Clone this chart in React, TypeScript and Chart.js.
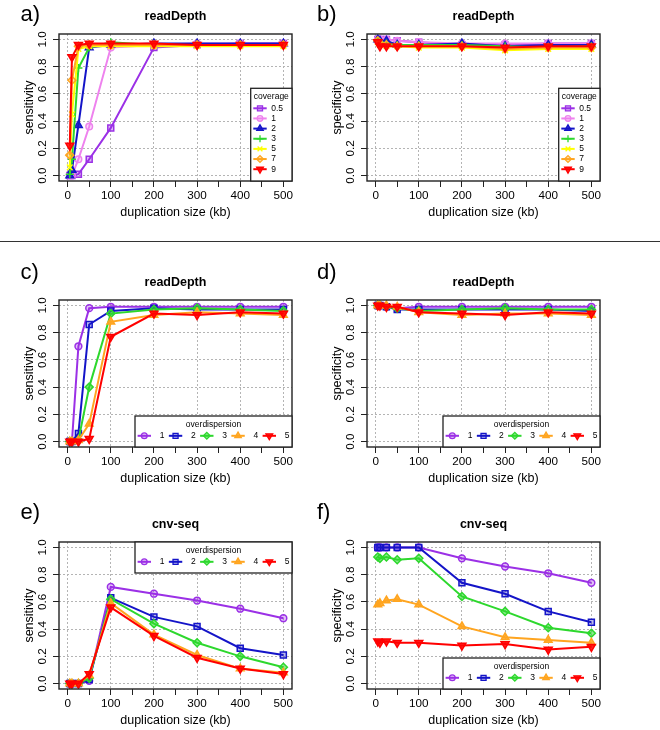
import React, { useEffect, useRef } from 'react';
import { Chart, registerables } from 'chart.js';

Chart.register(...registerables);

const FONT = "'Liberation Sans', Arial, Helvetica, sans-serif";
const GRID = '#B4B4B4';

// ---------- data ----------
const sizesKb = [5, 10, 25, 50, 100, 200, 300, 400, 500];
const xTickValues = [0, 50, 100, 150, 200, 250, 300, 350, 400, 450, 500];
const yTickValues = [0, 0.2, 0.4, 0.6, 0.8, 1.0];

const coverageLevels = ['0.5', '1', '2', '3', '5', '7', '9'];
const overdispersionLevels = ['1', '2', '3', '4', '5'];

// a) readDepth sensitivity, by coverage
const aCov05 = [0, 0, 0.01, 0.12, 0.35, 0.94, 0.96, 0.97, 0.97];
const aCov1 = [0, 0, 0.12, 0.36, 0.94, 0.96, 0.97, 0.97, 0.97];
const aCov2 = [0, 0.04, 0.37, 0.94, 0.96, 0.97, 0.97, 0.97, 0.97];
const aCov3 = [0.01, 0.12, 0.79, 0.94, 0.98, 0.96, 0.96, 0.96, 0.96];
const aCov5 = [0.06, 0.45, 0.93, 0.95, 0.95, 0.95, 0.95, 0.95, 0.95];
const aCov7 = [0.15, 0.7, 0.95, 0.96, 0.96, 0.96, 0.96, 0.96, 0.96];
const aCov9 = [0.22, 0.87, 0.96, 0.97, 0.97, 0.97, 0.96, 0.96, 0.96];

// b) readDepth specificity, by coverage
const bCov05 = [1.0, 1.0, 1.0, 0.99, 0.98, 0.96, 0.96, 0.97, 0.97];
const bCov1 = [1.0, 1.0, 1.0, 0.99, 0.98, 0.97, 0.97, 0.97, 0.97];
const bCov2 = [1.0, 0.99, 0.99, 0.96, 0.96, 0.97, 0.95, 0.96, 0.96];
const bCov3 = [0.99, 0.98, 0.97, 0.96, 0.96, 0.96, 0.95, 0.94, 0.95];
const bCov5 = [0.98, 0.96, 0.95, 0.95, 0.94, 0.94, 0.92, 0.93, 0.93];
const bCov7 = [0.99, 0.97, 0.96, 0.95, 0.95, 0.95, 0.93, 0.94, 0.94];
const bCov9 = [0.98, 0.95, 0.95, 0.95, 0.95, 0.95, 0.94, 0.95, 0.95];

// c) readDepth sensitivity, by overdispersion
const cOd1 = [0, 0, 0.7, 0.98, 0.99, 0.99, 0.99, 0.99, 0.99];
const cOd2 = [0, 0, 0.06, 0.86, 0.96, 0.98, 0.97, 0.97, 0.97];
const cOd3 = [0, 0, 0.01, 0.4, 0.94, 0.97, 0.98, 0.97, 0.96];
const cOd4 = [0, 0, 0.01, 0.13, 0.88, 0.93, 0.95, 0.94, 0.93];
const cOd5 = [0, 0, 0, 0.02, 0.77, 0.94, 0.93, 0.95, 0.94];

// d) readDepth specificity, by overdispersion
const dOd1 = [1.0, 1.0, 0.99, 0.98, 0.99, 0.99, 0.99, 0.99, 0.99];
const dOd2 = [1.0, 1.0, 0.99, 0.97, 0.97, 0.97, 0.97, 0.97, 0.96];
const dOd3 = [1.0, 1.0, 0.99, 0.98, 0.96, 0.97, 0.98, 0.97, 0.97];
const dOd4 = [1.0, 1.0, 1.0, 0.99, 0.95, 0.93, 0.94, 0.94, 0.93];
const dOd5 = [1.0, 1.0, 0.99, 0.99, 0.95, 0.94, 0.93, 0.95, 0.94];

// e) cnv-seq sensitivity, by overdispersion
const eOd1 = [0, 0, 0, 0.02, 0.71, 0.66, 0.61, 0.55, 0.48];
const eOd2 = [0, 0, 0, 0.03, 0.63, 0.49, 0.42, 0.26, 0.21];
const eOd3 = [0, 0, 0, 0.04, 0.62, 0.44, 0.3, 0.2, 0.12];
const eOd4 = [0, 0, 0, 0.06, 0.59, 0.36, 0.21, 0.11, 0.08];
const eOd5 = [0, 0, 0, 0.07, 0.56, 0.35, 0.19, 0.11, 0.07];

// f) cnv-seq specificity, by overdispersion
const fOd1 = [1.0, 1.0, 1.0, 1.0, 1.0, 0.92, 0.86, 0.81, 0.74];
const fOd2 = [1.0, 1.0, 1.0, 1.0, 1.0, 0.74, 0.66, 0.53, 0.45];
const fOd3 = [0.93, 0.92, 0.93, 0.91, 0.92, 0.64, 0.53, 0.41, 0.37];
const fOd4 = [0.58, 0.59, 0.61, 0.62, 0.58, 0.42, 0.34, 0.32, 0.3];
const fOd5 = [0.31, 0.3, 0.31, 0.3, 0.3, 0.28, 0.29, 0.25, 0.27];

// ---------- styles ----------
type MarkStyle = { color: string; fill: string; point: string; rot: number; r: number };

const coverageStyles: MarkStyle[] = [
  { color: '#9B30E6', fill: 'rgba(155,48,230,0.35)', point: 'rect', rot: 0, r: 4.2 },
  { color: '#EE82EE', fill: 'rgba(238,130,238,0.3)', point: 'circle', rot: 0, r: 3.3 },
  { color: '#1414C8', fill: 'rgba(20,20,200,0.85)', point: 'triangle', rot: 0, r: 4.4 },
  { color: '#2DD82D', fill: 'rgba(45,216,45,0)', point: 'cross', rot: 0, r: 4 },
  { color: '#FFFF00', fill: 'rgba(255,255,0,0)', point: 'crossRot', rot: 0, r: 4 },
  { color: '#FFA520', fill: 'rgba(255,165,32,0.35)', point: 'rectRot', rot: 0, r: 4 },
  { color: '#FF0000', fill: 'rgba(255,0,0,0.85)', point: 'triangle', rot: 180, r: 4.6 },
];

const overdispersionStyles: MarkStyle[] = [
  { color: '#9B30E6', fill: 'rgba(155,48,230,0.3)', point: 'circle', rot: 0, r: 3.4 },
  { color: '#1414C8', fill: 'rgba(20,20,200,0.3)', point: 'rect', rot: 0, r: 4.2 },
  { color: '#2DD82D', fill: 'rgba(45,216,45,0.55)', point: 'rectRot', rot: 0, r: 4 },
  { color: '#FFA520', fill: 'rgba(255,165,32,0.85)', point: 'triangle', rot: 0, r: 4.4 },
  { color: '#FF0000', fill: 'rgba(255,0,0,0.85)', point: 'triangle', rot: 180, r: 4.6 },
];

// ---------- layout ----------
const Y_AXIS_W = 59;
const X_AXIS_H = 52;
const PAD_TOP = 45;
const PAD_RIGHT = 12;
const BOX_W = 233;
const BOX_H = 147;
const CANVAS_W = Y_AXIS_W + BOX_W + PAD_RIGHT;
const CANVAS_H = PAD_TOP + BOX_H + X_AXIS_H;

type LegendCfg = { kind: 'v' | 'h'; anchor: 'br' | 'tr'; title: string };

type PanelCfg = {
  boxLeft: number;
  boxTop: number;
  label: string;
  labelX: number;
  labelBaseline: number;
  title: string;
  yTitle: string;
  levels: string[];
  values: number[][];
  styles: MarkStyle[];
  legend: LegendCfg;
};

const panels: PanelCfg[] = [
  {
    boxLeft: 59, boxTop: 34, label: 'a)', labelX: 20.5, labelBaseline: 21, title: 'readDepth', yTitle: 'sensitivity',
    levels: coverageLevels, values: [aCov05, aCov1, aCov2, aCov3, aCov5, aCov7, aCov9], styles: coverageStyles,
    legend: { kind: 'v', anchor: 'br', title: 'coverage' },
  },
  {
    boxLeft: 367, boxTop: 34, label: 'b)', labelX: 317, labelBaseline: 21, title: 'readDepth', yTitle: 'specificity',
    levels: coverageLevels, values: [bCov05, bCov1, bCov2, bCov3, bCov5, bCov7, bCov9], styles: coverageStyles,
    legend: { kind: 'v', anchor: 'br', title: 'coverage' },
  },
  {
    boxLeft: 59, boxTop: 300, label: 'c)', labelX: 20.5, labelBaseline: 279, title: 'readDepth', yTitle: 'sensitivity',
    levels: overdispersionLevels, values: [cOd1, cOd2, cOd3, cOd4, cOd5], styles: overdispersionStyles,
    legend: { kind: 'h', anchor: 'br', title: 'overdispersion' },
  },
  {
    boxLeft: 367, boxTop: 300, label: 'd)', labelX: 317, labelBaseline: 279, title: 'readDepth', yTitle: 'specificity',
    levels: overdispersionLevels, values: [dOd1, dOd2, dOd3, dOd4, dOd5], styles: overdispersionStyles,
    legend: { kind: 'h', anchor: 'br', title: 'overdispersion' },
  },
  {
    boxLeft: 59, boxTop: 542, label: 'e)', labelX: 20.5, labelBaseline: 519, title: 'cnv-seq', yTitle: 'sensitivity',
    levels: overdispersionLevels, values: [eOd1, eOd2, eOd3, eOd4, eOd5], styles: overdispersionStyles,
    legend: { kind: 'h', anchor: 'tr', title: 'overdispersion' },
  },
  {
    boxLeft: 367, boxTop: 542, label: 'f)', labelX: 317, labelBaseline: 519, title: 'cnv-seq', yTitle: 'specificity',
    levels: overdispersionLevels, values: [fOd1, fOd2, fOd3, fOd4, fOd5], styles: overdispersionStyles,
    legend: { kind: 'h', anchor: 'br', title: 'overdispersion' },
  },
];

// ---------- drawing helpers ----------
function drawMarker(ctx: CanvasRenderingContext2D, st: MarkStyle, x: number, y: number, lw: number) {
  const r = st.r;
  const rad = (st.rot * Math.PI) / 180;
  ctx.save();
  ctx.beginPath();
  let fillable = true;
  if (st.point === 'circle') {
    ctx.arc(x, y, r, 0, Math.PI * 2);
    ctx.closePath();
  } else if (st.point === 'rect') {
    const s = r * Math.SQRT1_2;
    ctx.rect(x - s, y - s, 2 * s, 2 * s);
  } else if (st.point === 'rectRot') {
    ctx.moveTo(x - r, y);
    ctx.lineTo(x, y - r);
    ctx.lineTo(x + r, y);
    ctx.lineTo(x, y + r);
    ctx.closePath();
  } else if (st.point === 'triangle') {
    let a = rad;
    ctx.moveTo(x + Math.sin(a) * r, y - Math.cos(a) * r);
    a += (2 * Math.PI) / 3;
    ctx.lineTo(x + Math.sin(a) * r, y - Math.cos(a) * r);
    a += (2 * Math.PI) / 3;
    ctx.lineTo(x + Math.sin(a) * r, y - Math.cos(a) * r);
    ctx.closePath();
  } else if (st.point === 'cross') {
    fillable = false;
    ctx.moveTo(x, y - r);
    ctx.lineTo(x, y + r);
    ctx.moveTo(x - r, y);
    ctx.lineTo(x + r, y);
  } else if (st.point === 'crossRot') {
    fillable = false;
    const d = r * Math.SQRT1_2;
    ctx.moveTo(x - d, y - d);
    ctx.lineTo(x + d, y + d);
    ctx.moveTo(x + d, y - d);
    ctx.lineTo(x - d, y + d);
  }
  if (fillable) {
    ctx.fillStyle = st.fill;
    ctx.fill();
  }
  ctx.strokeStyle = st.color;
  ctx.lineWidth = lw;
  ctx.stroke();
  ctx.restore();
}

function makeDecor(cfg: PanelCfg, canvasLeft: number, canvasTop: number) {
  return {
    id: 'rDecor',
    afterDatasetsDraw(chart: any) {
      const ctx: CanvasRenderingContext2D = chart.ctx;
      const ca = chart.chartArea;
      ctx.save();
      // plot box
      ctx.strokeStyle = '#222';
      ctx.lineWidth = 1.4;
      ctx.strokeRect(ca.left, ca.top, ca.right - ca.left, ca.bottom - ca.top);

      // legend
      const lg = cfg.legend;
      const n = cfg.levels.length;
      ctx.font = `8.5px ${FONT}`;
      ctx.textBaseline = 'middle';
      if (lg.kind === 'v') {
        const w = 41.3;
        const h = 92.7;
        const bx = ca.right - w;
        const by = ca.bottom - h;
        ctx.fillStyle = '#fff';
        ctx.fillRect(bx, by, w, h);
        ctx.strokeStyle = '#222';
        ctx.lineWidth = 1.3;
        ctx.strokeRect(bx, by, w, h);
        ctx.fillStyle = '#000';
        ctx.textAlign = 'center';
        ctx.fillText(lg.title, bx + w / 2, by + 8.6);
        ctx.textAlign = 'left';
        for (let i = 0; i < n; i++) {
          const st = cfg.styles[i];
          const y = by + 20 + i * 10.15;
          ctx.strokeStyle = st.color;
          ctx.lineWidth = 2;
          ctx.beginPath();
          ctx.moveTo(bx + 2.6, y);
          ctx.lineTo(bx + 16, y);
          ctx.stroke();
          drawMarker(ctx, { ...st, r: st.r * 0.85 }, bx + 9.3, y, 1.3);
          ctx.fillStyle = '#000';
          ctx.fillText(cfg.levels[i], bx + 20.5, y);
        }
      } else {
        const w = 157;
        const h = 31;
        const bx = ca.right - w;
        const by = lg.anchor === 'tr' ? ca.top : ca.bottom - h;
        ctx.fillStyle = '#fff';
        ctx.fillRect(bx, by, w, h);
        ctx.strokeStyle = '#222';
        ctx.lineWidth = 1.3;
        ctx.strokeRect(bx, by, w, h);
        ctx.fillStyle = '#000';
        ctx.textAlign = 'center';
        ctx.fillText(lg.title, bx + w / 2, by + 8.6);
        ctx.textAlign = 'left';
        for (let i = 0; i < n; i++) {
          const st = cfg.styles[i];
          const mx = bx + 9.3 + i * 31.25;
          const y = by + 19.8;
          ctx.strokeStyle = st.color;
          ctx.lineWidth = 2;
          ctx.beginPath();
          ctx.moveTo(mx - 6.7, y);
          ctx.lineTo(mx + 6.7, y);
          ctx.stroke();
          drawMarker(ctx, { ...st, r: st.r * 0.85 }, mx, y, 1.3);
          ctx.fillStyle = '#000';
          ctx.fillText(cfg.levels[i], mx + 15.5, y);
        }
      }
      ctx.restore();
    },
    afterDraw(chart: any) {
      const ctx: CanvasRenderingContext2D = chart.ctx;
      const ca = chart.chartArea;
      ctx.save();
      ctx.fillStyle = '#000';
      ctx.textBaseline = 'alphabetic';
      ctx.textAlign = 'center';
      ctx.font = `bold 12.5px ${FONT}`;
      ctx.fillText(cfg.title, (ca.left + ca.right) / 2, ca.top - 14.5);
      ctx.textAlign = 'left';
      ctx.font = `22px ${FONT}`;
      ctx.fillText(cfg.label, cfg.labelX - canvasLeft, cfg.labelBaseline - canvasTop);
      ctx.restore();
    },
  };
}

function buildConfig(cfg: PanelCfg, canvasLeft: number, canvasTop: number): any {
  const n = cfg.values.length;
  const datasets = cfg.values.map((vals, i) => {
    const st = cfg.styles[i];
    return {
      label: cfg.levels[i],
      data: sizesKb.map((x, j) => ({ x, y: vals[j] })),
      borderColor: st.color,
      backgroundColor: st.color,
      borderWidth: 2,
      pointStyle: st.point,
      pointRotation: st.rot,
      pointRadius: st.r,
      pointBackgroundColor: st.fill,
      pointBorderColor: st.color,
      pointBorderWidth: 1.5,
      tension: 0,
      fill: false,
      order: n - i,
    };
  });
  const tickFont = { family: FONT, size: 11.7 };
  const titleFont = { family: FONT, size: 12.5 };
  return {
    type: 'line',
    data: { datasets },
    options: {
      responsive: false,
      animation: false,
      events: [],
      layout: { padding: { left: 0, right: PAD_RIGHT, top: PAD_TOP, bottom: 0 } },
      plugins: { legend: { display: false }, tooltip: { enabled: false }, title: { display: false } },
      scales: {
        x: {
          type: 'linear',
          min: -20,
          max: 520,
          afterBuildTicks: (s: any) => {
            s.ticks = xTickValues.map((v) => ({ value: v }));
          },
          afterFit: (s: any) => {
            s.height = X_AXIS_H;
          },
          ticks: {
            autoSkip: false,
            maxRotation: 0,
            minRotation: 0,
            padding: 1.5,
            color: '#000',
            font: tickFont,
            callback: (v: any) => (Number(v) % 100 === 0 ? String(v) : ''),
          },
          grid: {
            color: (c: any) => (c.tick && c.tick.value % 100 === 0 ? GRID : 'rgba(0,0,0,0)'),
            lineWidth: 1,
            tickLength: 6,
            tickColor: '#222',
            tickWidth: 1,
          },
          border: { display: false, dash: [2, 2] },
          title: { display: true, text: 'duplication size (kb)', color: '#000', font: titleFont, padding: { top: 0, bottom: 13 } },
        },
        y: {
          type: 'linear',
          min: -0.04,
          max: 1.04,
          afterBuildTicks: (s: any) => {
            s.ticks = yTickValues.map((v) => ({ value: v }));
          },
          afterFit: (s: any) => {
            s.width = Y_AXIS_W;
          },
          ticks: {
            minRotation: 90,
            maxRotation: 90,
            crossAlign: 'center',
            padding: 2,
            color: '#000',
            font: tickFont,
            callback: (v: any) => Number(v).toFixed(1),
          },
          grid: { color: GRID, lineWidth: 1, tickLength: 6, tickColor: '#222', tickWidth: 1 },
          border: { display: false, dash: [2, 2] },
          title: { display: true, text: cfg.yTitle, color: '#000', font: titleFont, padding: { top: 22, bottom: 0 } },
        },
      },
    },
    plugins: [makeDecor(cfg, canvasLeft, canvasTop)],
  };
}

function Panel({ cfg }: { cfg: PanelCfg }) {
  const ref = useRef<HTMLCanvasElement | null>(null);
  const left = cfg.boxLeft - Y_AXIS_W;
  const top = cfg.boxTop - PAD_TOP;
  useEffect(() => {
    if (!ref.current) return;
    const chart = new Chart(ref.current, buildConfig(cfg, left, top));
    return () => chart.destroy();
  }, []);
  return (
    <canvas
      ref={ref}
      width={CANVAS_W}
      height={CANVAS_H}
      style={{ position: 'absolute', left, top, width: CANVAS_W, height: CANVAS_H }}
    />
  );
}

export default function App() {
  return (
    <div
      style={{
        position: 'absolute',
        left: 0,
        top: 0,
        width: 660,
        height: 730,
        background: '#fff',
        overflow: 'hidden',
      }}
    >
      <div style={{ position: 'absolute', left: 0, top: 241, width: 660, height: 1, background: '#333' }} />
      {panels.map((p, i) => (
        <Panel key={i} cfg={p} />
      ))}
    </div>
  );
}
